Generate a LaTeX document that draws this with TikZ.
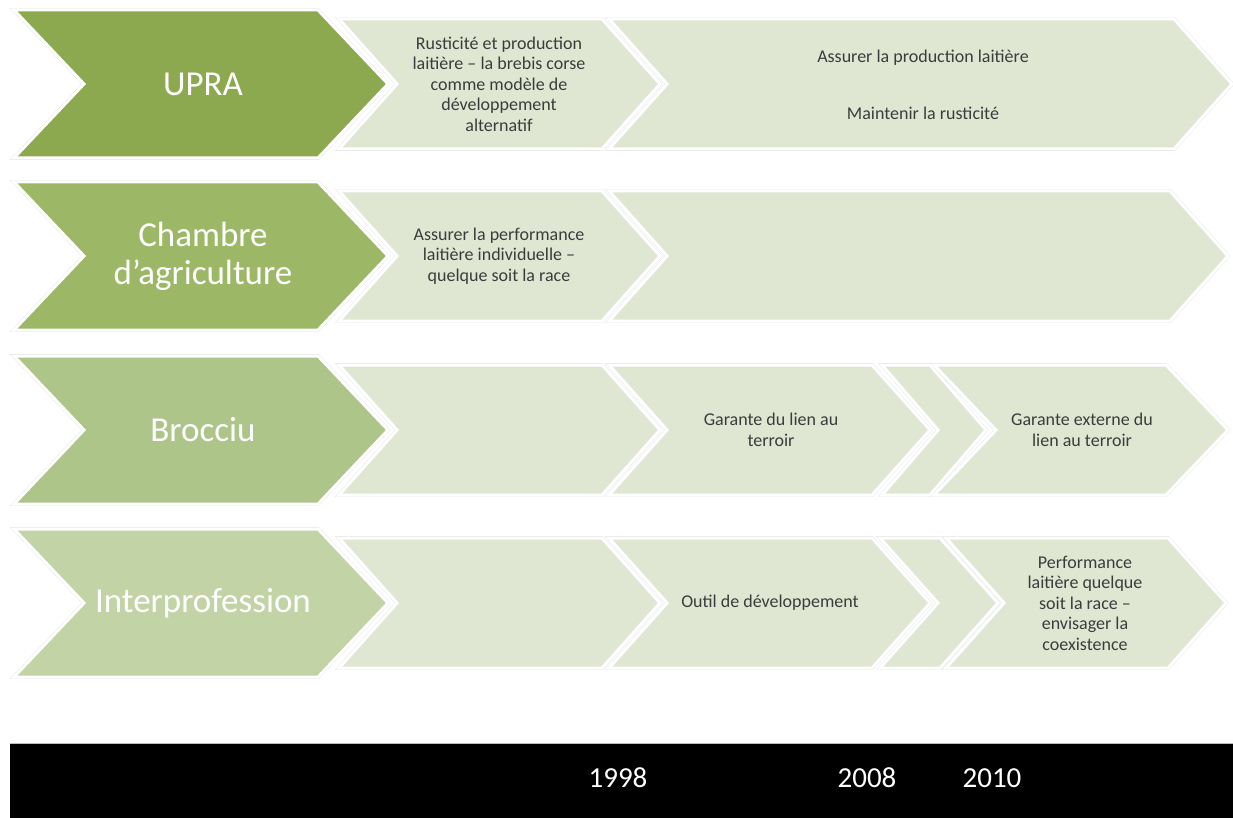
\documentclass[tikz,border=0pt]{standalone}
\usepackage{fontspec}
\setmainfont{Carlito}
\definecolor{leafA}{HTML}{8CA950}
\definecolor{leafB}{HTML}{9CB866}
\definecolor{leafC}{HTML}{AEC58A}
\definecolor{leafD}{HTML}{C2D3A6}
\definecolor{leafpale}{HTML}{DFE7D3}
\definecolor{textgray}{HTML}{3C3C3C}
\tikzset{
  chevedge/.style={draw=black!11, line width=3.8pt, line join=miter},
  chevfill/.style={draw=white, line width=3pt, line join=miter},
  labelbig/.style={font=\fontsize{35}{38}\selectfont, text=white, align=center, inner sep=0pt},
  labelsmall/.style={font=\fontsize{18}{20.5}\selectfont, text=textgray, align=center, inner sep=0pt},
  yearlabel/.style={font=\fontsize{29}{30}\selectfont, text=white, inner sep=0pt},
}
% fill, left x, right x, top y, bottom y, depth
\newcommand{\chev}[6]{%
  \path[chevedge] (#2,#4) -- (#3,#4) -- ({#3+#6},{(#4+#5)/2}) -- (#3,#5) -- (#2,#5) -- ({#2+#6},{(#4+#5)/2}) -- cycle;
  \path[chevfill, fill=#1] (#2,#4) -- (#3,#4) -- ({#3+#6},{(#4+#5)/2}) -- (#3,#5) -- (#2,#5) -- ({#2+#6},{(#4+#5)/2}) -- cycle;
}

\begin{document}
\begin{tikzpicture}[x=1pt, y=-1pt]
\useasboundingbox (0,0) rectangle (1233,818);
\chev{leafA}{14}{318}{10}{158}{70}
\chev{leafpale}{339}{602}{19}{149}{58}
\chev{leafpale}{609}{1174}{19}{149}{58}
\chev{leafB}{14}{318}{182}{330}{70}
\chev{leafpale}{339}{602}{191}{321}{58}
\chev{leafpale}{609}{1170}{191}{321}{58}
\chev{leafC}{14}{318}{356}{504}{70}
\chev{leafpale}{339}{602}{365}{495}{58}
\chev{leafpale}{609}{872}{365}{495}{58}
\chev{leafpale}{882}{930}{365}{495}{56}
\chev{leafpale}{934}{1166}{365}{495}{62}
\chev{leafD}{14}{318}{529}{677}{70}
\chev{leafpale}{339}{602}{538}{668}{58}
\chev{leafpale}{609}{872}{538}{668}{58}
\chev{leafpale}{880}{940}{538}{668}{58}
\chev{leafpale}{946}{1168}{538}{668}{58}
\node[labelbig] (upra) at (203,84) {UPRA};
\node[labelbig] (chambre) at (203,256) {Chambre\\d’agriculture};
\node[labelbig] (brocciu) at (203,430) {Brocciu};
\node[labelbig] (interpro) at (203,603) {Interprofession};
\node[labelsmall] (upraA) at (499,84) {Rusticité et production\\laitière – la brebis corse\\comme modèle de\\développement\\alternatif};
\node[labelsmall] (upraB) at (923,85) {Assurer la production laitière\\[37pt]Maintenir la rusticité};
\node[labelsmall] (chambreA) at (499,256) {Assurer la performance\\laitière individuelle –\\quelque soit la race};
\node[labelsmall] (brocciuB) at (771,430) {Garante du lien au\\terroir};
\node[labelsmall] (brocciuC) at (1082,430) {Garante externe du\\lien au terroir};
\node[labelsmall] (interproB) at (770,603) {Outil de développement};
\node[labelsmall] (interproC) at (1085,603) {Performance\\laitière quelque\\soit la race –\\envisager la\\coexistence};
\fill[black] (10,743) rectangle (1233,818);
\draw[black!25, line width=0.8pt] (10,743) -- (1233,743);
\node[yearlabel] (y1998) at (618,778) {1998};
\node[yearlabel] (y2008) at (867,778) {2008};
\node[yearlabel] (y2010) at (992,778) {2010};
\end{tikzpicture}
\end{document}
